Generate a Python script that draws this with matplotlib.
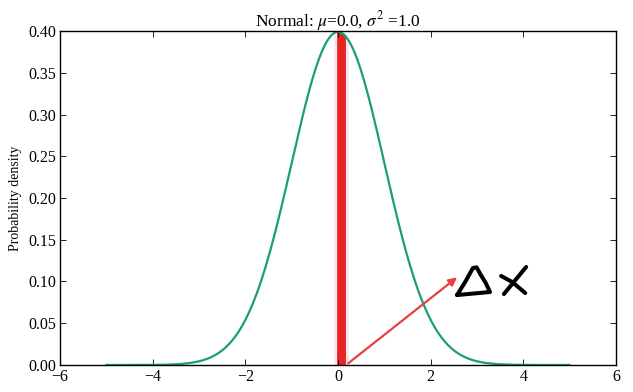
import numpy as np
import matplotlib
matplotlib.use("Agg")
import matplotlib.pyplot as plt

plt.rcParams['font.family'] = ['Liberation Serif', 'DejaVu Serif']
plt.rcParams['mathtext.fontset'] = 'stix'

# distribution parameters
mu = 0.0
sigma2 = 1.0
x_min, x_max = -5.0, 5.0

# highlighted slice (dx) and the arrow pointing at it
band_lo, band_hi = -0.03, 0.16
arrow_tail = (0.22, 0.002)
arrow_tip = (2.57, 0.105)

# hand drawn "delta x" strokes (data coords)
tri_x = [2.57, 2.75, 2.91, 2.99, 3.08, 3.19, 3.28, 2.57]
tri_y = [0.0838, 0.1000, 0.1160, 0.1170, 0.1080, 0.0980, 0.0874, 0.0838]
xa_x = [4.06, 3.58]
xa_y = [0.1174, 0.0850]
xb_x = [3.52, 3.76, 4.04]
xb_y = [0.1066, 0.0994, 0.0862]


def normal_pdf(v):
    return np.exp(-(v - mu) ** 2 / (2 * sigma2)) / np.sqrt(2 * np.pi * sigma2)


x = np.linspace(x_min, x_max, 500)
pdf = normal_pdf(x)

fig = plt.figure(figsize=(6.33, 3.92), dpi=100)
ax = fig.add_axes([0.0948, 0.0689, 0.8784, 0.8520])

# red slice with soft edges
xw = np.linspace(band_lo - 0.06, band_hi + 0.06, 20)
ax.fill_between(xw, 0, normal_pdf(xw), color='#e41a1c', alpha=0.12, lw=0)
xn = np.linspace(band_lo, band_hi, 20)
ax.fill_between(xn, 0, normal_pdf(xn), color='#e41a1c', alpha=0.95, lw=0)

ax.plot(x, pdf, color='#1b9e77', lw=1.6)

ax.annotate('', xy=arrow_tip, xytext=arrow_tail,
            arrowprops=dict(arrowstyle='-|>', color='#e8403f', lw=1.6,
                            mutation_scale=12, shrinkA=0, shrinkB=0))

for sx, sy in [(tri_x, tri_y), (xa_x, xa_y), (xb_x, xb_y)]:
    ax.plot(sx, sy, color='black', lw=2.9, solid_capstyle='round',
            solid_joinstyle='round', clip_on=False)

ax.set_xlim(-6, 6)
ax.set_ylim(0, 0.40)
ax.set_xticks(np.arange(-6, 7, 2))
ax.set_yticks(np.arange(0, 0.41, 0.05))
ax.set_xticklabels(['\u22126', '\u22124', '\u22122', '0', '2', '4', '6'])
ax.set_yticklabels([f'{v:.2f}' for v in np.arange(0, 0.41, 0.05)])
ax.tick_params(direction='in', top=True, right=True, labelsize=11.5,
               length=4, width=0.6, pad=3)
for s in ax.spines.values():
    s.set_linewidth(1.0)

ax.set_xlabel('x', fontsize=10)
ax.set_ylabel('Probability density', fontsize=10)
ax.set_title(r'Normal: $\mu$=0.0, $\sigma^2$ =1.0', fontsize=12.5, pad=3)

fig.savefig('out.png', dpi=100)
